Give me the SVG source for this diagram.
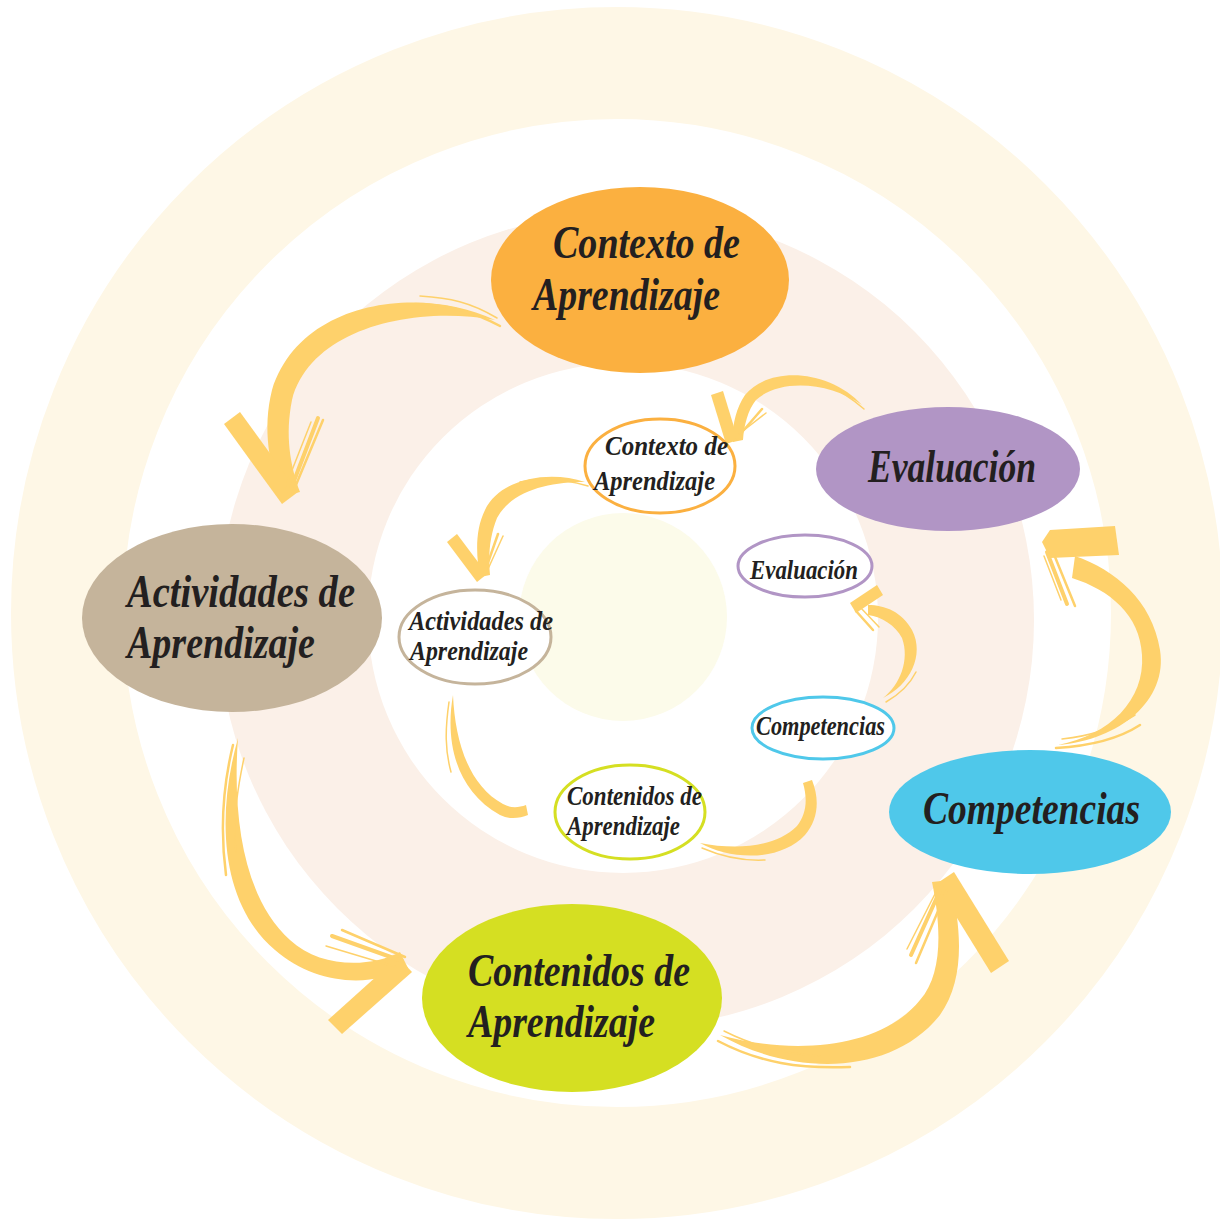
<svg xmlns="http://www.w3.org/2000/svg" width="1220" height="1228" viewBox="0 0 1220 1228">
<style>
.bg-ring{fill:none;stroke:#FEF7E6;stroke-width:112}
.peach{fill:#FBF0E8}
.white{fill:#FFFFFF}
.core{fill:#FCFBEA}
.txt{font-family:"Liberation Serif","DejaVu Serif",serif;font-style:italic;font-weight:bold;fill:#231F20}
.big{font-size:46px}
.small{font-size:28px}
.sm-node{fill:#FFFFFF;stroke-width:3}
.arw{fill:#FED16B;stroke:none}
.strk{fill:none;stroke:#FED16B;stroke-linecap:round}
.s1{stroke-width:1.5}
.s2{stroke-width:2.5}
.s3{stroke-width:4}
</style>

<!-- background rings -->
<rect x="0" y="0" width="1220" height="1228" fill="#FFFFFF"/>
<circle cx="617" cy="613" r="550" class="bg-ring"/>
<circle cx="626" cy="620" r="408" class="peach"/>
<circle cx="623" cy="618" r="255" class="white"/>
<circle cx="623" cy="617" r="104" class="core"/>

<!-- connectors -->
<g id="connectors">
  <!-- A1: Contexto -> Actividades -->
  <path class="arw" d="M495 320 C420 285 300 300 272 390 C262 430 270 465 280 497 L300 492 C290 465 285 435 292 400 C310 330 410 305 495 320 Z"/>
  <path class="strk s2" d="M500 326 C470 310 440 304 415 304"/>
  <path class="strk s1" d="M497 318 C470 302 450 298 420 296"/>
  <polygon class="arw" points="224,424 240,412 298,492 282,504"/>
  <path class="strk s3" d="M289 494 L318 418"/>
  <path class="strk s2" d="M293 492 L323 420"/>
  <path class="strk s1" d="M285 488 L311 422"/>

  <!-- A2: Actividades -> Contenidos -->
  <path class="arw" d="M238 738 C215 820 222 905 275 950 C315 985 370 988 408 968 L400 952 C370 968 320 968 290 940 C245 900 232 820 238 738 Z"/>
  <path class="strk s2" d="M233 745 C222 790 220 830 226 875"/>
  <path class="strk s1" d="M244 758 C235 800 233 830 236 852"/>
  <polygon class="arw" points="412,972 398,957 328,1020 342,1034"/>
  <path class="strk s3" d="M402 961 L332 936"/>
  <path class="strk s2" d="M405 957 L342 930"/>
  <path class="strk s1" d="M396 967 L326 946"/>

  <!-- A3: Contenidos -> Competencias -->
  <path class="arw" d="M720 1035 C790 1075 890 1078 940 1015 C965 980 962 930 950 880 L932 882 C942 930 942 975 920 1000 C880 1050 790 1055 720 1035 Z"/>
  <path class="strk s2" d="M718 1041 C760 1063 800 1069 850 1067"/>
  <path class="strk s1" d="M724 1031 C760 1049 790 1054 820 1056"/>
  <polygon class="arw" points="936,884 954,872 1009,961 991,973"/>
  <path class="strk s3" d="M942 886 L911 955"/>
  <path class="strk s2" d="M947 890 L916 963"/>
  <path class="strk s1" d="M937 890 L907 949"/>

  <!-- A4: Competencias -> Evaluacion -->
  <path class="arw" d="M1058 745 C1120 740 1168 700 1160 650 C1152 600 1115 570 1075 556 L1072 578 C1110 590 1140 615 1142 655 C1145 700 1110 735 1058 745 Z"/>
  <path class="strk s2" d="M1056 748 C1090 746 1120 738 1140 725"/>
  <path class="strk s1" d="M1062 739 C1090 736 1115 728 1135 715"/>
  <polygon class="arw" points="1042,542 1050,530 1115,526 1119,555 1050,558"/>
  <path class="strk s3" d="M1047 552 L1067 604"/>
  <path class="strk s2" d="M1053 552 L1075 606"/>
  <path class="strk s1" d="M1044 556 L1061 600"/>

  <!-- A5: small arrow into inner Contexto -->
  <path class="arw" d="M862 405 C830 370 770 365 745 395 C735 410 732 428 733 442 L743 440 C744 425 748 410 756 400 C780 378 830 382 862 405 Z"/>
  <path class="strk s1" d="M864 409 C840 388 815 378 790 378"/>
  <polygon class="arw" points="711,395 723,391 738,440 726,444"/>
  <path class="strk s2" d="M736 439 L762 409"/>
  <path class="strk s1" d="M739 434 L766 413"/>

  <!-- I1: inner Contexto -> inner Actividades -->
  <path class="arw" d="M585 482 C550 470 500 478 485 510 C475 530 476 555 480 577 L490 575 C488 555 490 535 497 518 C512 490 550 482 585 482 Z"/>
  <path class="strk s1" d="M588 486 C560 478 540 478 520 482"/>
  <polygon class="arw" points="447,542 457,534 487,574 477,582"/>
  <path class="strk s2" d="M484 574 L498 534"/>
  <path class="strk s1" d="M488 569 L503 536"/>

  <!-- I2: inner Actividades -> inner Contenidos -->
  <path class="arw" d="M453 695 C445 740 455 790 500 815 C510 820 520 818 528 815 L526 805 C518 808 510 808 503 804 C468 785 455 740 453 695 Z"/>
  <path class="strk s1" d="M449 702 C445 730 445 750 451 772"/>

  <!-- I3: inner Contenidos -> inner Competencias -->
  <path class="arw" d="M700 843 C730 860 780 862 805 835 C818 820 820 800 812 780 L803 783 C808 800 806 815 797 826 C775 848 735 850 700 843 Z"/>
  <path class="strk s1" d="M702 848 C725 858 745 861 765 860"/>

  <!-- I4: inner Competencias -> inner Evaluacion -->
  <path class="arw" d="M883 698 C910 685 925 655 912 630 C902 612 885 605 868 605 L868 615 C882 617 895 625 902 638 C910 660 900 685 883 698 Z"/>
  <path class="strk s1" d="M886 702 C900 694 910 684 916 672"/>
  <polygon class="arw" points="850,603 877,585 883,595 856,613"/>
  <path class="strk s2" d="M856 611 L873 630"/>
  <path class="strk s1" d="M860 607 L879 627"/>
</g>

<!-- big nodes -->
<g id="node-contexto">
  <ellipse cx="640" cy="280" rx="149" ry="93" fill="#FBB040"/>
  <text class="txt big" x="553" y="258" textLength="187" lengthAdjust="spacingAndGlyphs">Contexto de</text>
  <text class="txt big" x="533" y="310" textLength="187" lengthAdjust="spacingAndGlyphs">Aprendizaje</text>
</g>
<g id="node-evaluacion">
  <ellipse cx="948" cy="469" rx="132" ry="62" fill="#B195C5"/>
  <text class="txt big" x="868" y="482" textLength="168" lengthAdjust="spacingAndGlyphs">Evaluación</text>
</g>
<g id="node-actividades">
  <ellipse cx="232" cy="618" rx="150" ry="94" fill="#C5B49B"/>
  <text class="txt big" x="127" y="607" textLength="228" lengthAdjust="spacingAndGlyphs">Actividades de</text>
  <text class="txt big" x="127" y="658" textLength="188" lengthAdjust="spacingAndGlyphs">Aprendizaje</text>
</g>
<g id="node-contenidos">
  <ellipse cx="572" cy="998" rx="150" ry="94" fill="#D5DF22"/>
  <text class="txt big" x="468" y="986" textLength="222" lengthAdjust="spacingAndGlyphs">Contenidos de</text>
  <text class="txt big" x="468" y="1037" textLength="187" lengthAdjust="spacingAndGlyphs">Aprendizaje</text>
</g>
<g id="node-competencias">
  <ellipse cx="1030" cy="812" rx="141" ry="62" fill="#4FC8EA"/>
  <text class="txt big" x="923" y="824" textLength="217" lengthAdjust="spacingAndGlyphs">Competencias</text>
</g>

<!-- small nodes -->
<g id="node-contexto-small">
  <ellipse cx="660" cy="466" rx="75" ry="47" class="sm-node" stroke="#FBB040"/>
  <text class="txt small" x="605" y="455" textLength="123" lengthAdjust="spacingAndGlyphs">Contexto de</text>
  <text class="txt small" x="594" y="490" textLength="121" lengthAdjust="spacingAndGlyphs">Aprendizaje</text>
</g>
<g id="node-evaluacion-small">
  <ellipse cx="805" cy="566" rx="67" ry="31" class="sm-node" stroke="#B195C5"/>
  <text class="txt small" x="750" y="579" textLength="108" lengthAdjust="spacingAndGlyphs">Evaluación</text>
</g>
<g id="node-actividades-small">
  <ellipse cx="475" cy="637" rx="76" ry="47" class="sm-node" stroke="#C5B49B"/>
  <text class="txt small" x="409" y="630" textLength="144" lengthAdjust="spacingAndGlyphs">Actividades de</text>
  <text class="txt small" x="410" y="660" textLength="118" lengthAdjust="spacingAndGlyphs">Aprendizaje</text>
</g>
<g id="node-competencias-small">
  <ellipse cx="823" cy="728" rx="71" ry="31" class="sm-node" stroke="#4FC8EA"/>
  <text class="txt small" x="756" y="735" textLength="129" lengthAdjust="spacingAndGlyphs">Competencias</text>
</g>
<g id="node-contenidos-small">
  <ellipse cx="630" cy="812" rx="75" ry="47" class="sm-node" stroke="#D5DF22"/>
  <text class="txt small" x="567" y="805" textLength="135" lengthAdjust="spacingAndGlyphs">Contenidos de</text>
  <text class="txt small" x="567" y="835" textLength="113" lengthAdjust="spacingAndGlyphs">Aprendizaje</text>
</g>
</svg>
